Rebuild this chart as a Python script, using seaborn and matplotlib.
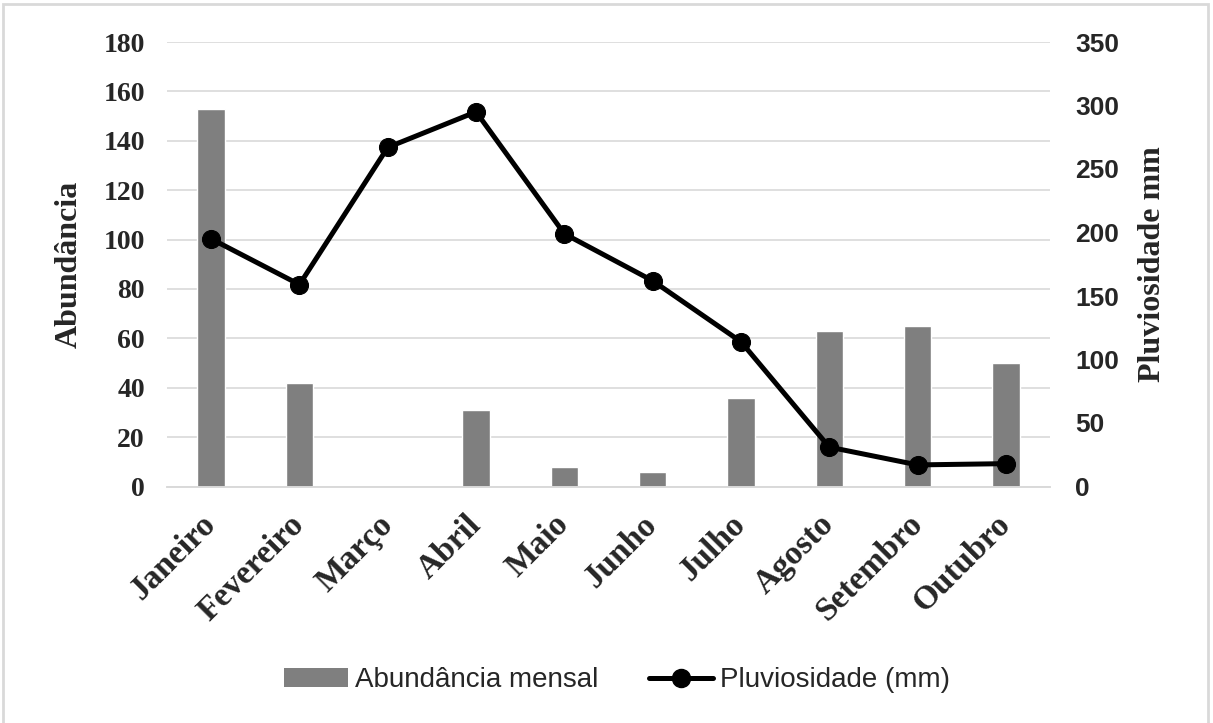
import numpy as np
import seaborn as sns
import matplotlib.pyplot as plt
from matplotlib.patches import Rectangle
from matplotlib.lines import Line2D
from matplotlib.patches import Patch

# Dados
meses = ["Janeiro", "Fevereiro", "Março", "Abril", "Maio",
         "Junho", "Julho", "Agosto", "Setembro", "Outubro"]
abundancia = [153, 42, 0, 31, 8, 6, 36, 63, 65, 50]
pluviosidade = [195, 159, 267, 295, 199, 162, 114, 31, 17, 18]

sns.set_style("white")
plt.rcParams['font.family'] = ['Liberation Serif', 'DejaVu Serif']

cinza_barra = "#7f7f7f"
cinza_grade = "#d9d9d9"

fig = plt.figure(figsize=(12.13, 7.23), dpi=100)
ax = fig.add_axes([167 / 1213, 1 - 486.5 / 723, 883 / 1213, 444.5 / 723])
ax2 = ax.twinx()

# Barras - abundância mensal
sns.barplot(x=meses, y=abundancia, color=cinza_barra, saturation=1,
            width=0.31, ax=ax, zorder=2)

# Linha - pluviosidade
sns.lineplot(x=np.arange(len(meses)), y=pluviosidade, ax=ax2, color="black",
             linewidth=3.6, marker="o", markersize=13, markeredgecolor="black",
             sort=False, zorder=3)

ax.set_xlim(-0.5, len(meses) - 0.5)
ax.set_ylim(0, 180)
ax.set_yticks(np.arange(0, 181, 20))
ax2.set_ylim(0, 350)
ax2.set_yticks(np.arange(0, 351, 50))

ax.grid(axis="y", color=cinza_grade, linewidth=1.2)
ax.set_axisbelow(True)
for a in (ax, ax2):
    for s in ["top", "left", "right"]:
        a.spines[s].set_visible(False)
    a.spines["bottom"].set_color(cinza_grade)
    a.spines["bottom"].set_linewidth(1.2)
    a.tick_params(length=0)

ax.set_xlabel("")
ax.set_ylabel("Abundância", fontsize=23, fontweight="bold", labelpad=14)
ax2.set_ylabel("Pluviosidade mm", fontsize=23, fontweight="bold", labelpad=14)

ax.tick_params(axis="y", pad=16)
for lab in ax.get_yticklabels():
    lab.set_fontsize(20)
    lab.set_fontweight("bold")

ax2.tick_params(axis="y", pad=18)
for lab in ax2.get_yticklabels():
    lab.set_family(["Liberation Sans", "DejaVu Sans"])
    lab.set_fontsize(19)
    lab.set_fontweight("bold")

ax.set_xticks(np.arange(len(meses)))
ax.set_xticklabels(meses, rotation=45, ha="right", va="center",
                   rotation_mode="anchor", fontsize=24, fontweight="bold")
ax.tick_params(axis="x", pad=24)

# Legenda
handles = [Patch(facecolor=cinza_barra, edgecolor="none"),
           Line2D([], [], color="black", linewidth=3.6, marker="o", markersize=13)]
fig.legend(handles, ["Abundância mensal", "Pluviosidade (mm)"],
           loc="center", bbox_to_anchor=(617 / 1213, 0.059), ncol=2,
           frameon=False, handlelength=2.3, handletextpad=0.25, columnspacing=1.8,
           prop={"family": ["Liberation Sans", "DejaVu Sans"], "size": 20})

# Borda do gráfico
fig.patches.append(Rectangle((3 / 1213, -0.01), 1205 / 1213, 1 - 4 / 723 + 0.01,
                             transform=fig.transFigure, fill=False,
                             edgecolor=cinza_grade, linewidth=2))

fig.savefig("out.png", dpi=100)
